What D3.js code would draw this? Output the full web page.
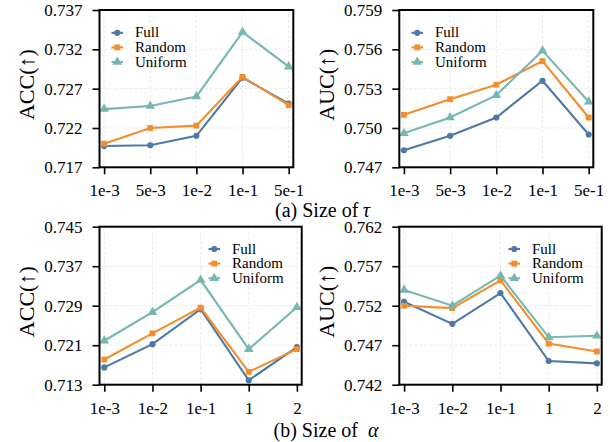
<!DOCTYPE html>
<html>
<head>
<meta charset="utf-8">
<script src="https://cdn.jsdelivr.net/npm/d3@7"></script>
<style>
  body { margin: 0; background: #fff; }
  svg text { font-family: "Liberation Serif", "Times New Roman", Times, serif !important; fill: #000; }
</style>
</head>
<body>
<div id="chart"></div>
<script>
// categories
var tauCats = ["1e-3", "5e-3", "1e-2", "1e-1", "5e-1"];
var alphaCats = ["1e-3", "1e-2", "1e-1", "1", "2"];
var seriesNames = ["Full", "Random", "Uniform"];

// (a) size of tau
var accTauFull = [0.7197, 0.7198, 0.7210, 0.7284, 0.7251];
var accTauRandom = [0.7200, 0.7220, 0.7223, 0.7285, 0.7249];
var accTauUniform = [0.7244, 0.7248, 0.7260, 0.7342, 0.7298];
var aucTauFull = [0.7483, 0.7494, 0.7508, 0.7536, 0.7495];
var aucTauRandom = [0.7510, 0.7522, 0.7533, 0.7551, 0.7508];
var aucTauUniform = [0.7496, 0.7508, 0.7525, 0.7559, 0.7520];

// (b) size of alpha
var accAlphaFull = [0.7165, 0.7212, 0.7283, 0.7139, 0.7206];
var accAlphaRandom = [0.7181, 0.7234, 0.7286, 0.7156, 0.7202];
var accAlphaUniform = [0.7219, 0.7277, 0.7342, 0.7202, 0.7287];
var aucAlphaFull = [0.7525, 0.7497, 0.7536, 0.7450, 0.7447];
var aucAlphaRandom = [0.7520, 0.7517, 0.7552, 0.7472, 0.7462];
var aucAlphaUniform = [0.7540, 0.7520, 0.7558, 0.7480, 0.7482];

// y tick labels
var accTauTicks = [0.717, 0.722, 0.727, 0.732, 0.737];
var aucTauTicks = [0.747, 0.750, 0.753, 0.756, 0.759];
var accAlphaTicks = [0.713, 0.721, 0.729, 0.737, 0.745];
var aucAlphaTicks = [0.742, 0.747, 0.752, 0.757, 0.762];

var colors = ["#4E79A7", "#F28E2B", "#76B7B2"];
var symbols = [d3.symbolCircle, d3.symbolSquare, d3.symbolTriangle];
var symSizes = [30, 34, 40];
var serif = "Liberation Serif";

var svg = d3.select("#chart")
  .append("svg")
  .attr("width", 610)
  .attr("height", 442)
  .attr("font-family", serif);

function drawPanel(p) {
  var g = svg.append("g");

  var x = d3.scaleLinear()
    .domain([-0.1, p.cats.length - 0.9])
    .range([p.left, p.right]);
  var y = d3.scaleLinear()
    .domain([p.ticks[0], p.ticks[p.ticks.length - 1]])
    .range([p.bottom, p.top]);

  // grid
  g.append("g")
    .selectAll("line")
    .data(p.ticks)
    .enter()
    .append("line")
    .attr("x1", p.left).attr("x2", p.right)
    .attr("y1", d => y(d)).attr("y2", d => y(d))
    .attr("stroke", "#e6e6e6")
    .attr("stroke-width", 0.8)
    .attr("stroke-dasharray", "3,2");
  g.append("g")
    .selectAll("line")
    .data(p.cats)
    .enter()
    .append("line")
    .attr("x1", (d, i) => x(i)).attr("x2", (d, i) => x(i))
    .attr("y1", p.top).attr("y2", p.bottom)
    .attr("stroke", "#e6e6e6")
    .attr("stroke-width", 0.8)
    .attr("stroke-dasharray", "3,2");

  // lines + markers
  var line = d3.line()
    .x((d, i) => x(i))
    .y(d => y(d));

  p.series.forEach(function(vals, k) {
    g.append("path")
      .datum(vals)
      .attr("d", line)
      .attr("fill", "none")
      .attr("stroke", colors[k])
      .attr("stroke-width", 2.1);
    g.selectAll("path.m" + k)
      .data(vals)
      .enter()
      .append("path")
      .attr("class", "m" + k)
      .attr("transform", (d, i) => `translate(${x(i)}, ${y(d)})`)
      .attr("d", d3.symbol().type(symbols[k]).size(symSizes[k]))
      .attr("fill", colors[k]);
  });

  // axes
  var leftAxis = d3.axisLeft(y)
    .tickValues(p.ticks)
    .tickFormat(d3.format(".3f"))
    .tickSize(7)
    .tickPadding(10);
  var bottomAxis = d3.axisBottom(x)
    .tickValues(d3.range(p.cats.length))
    .tickFormat(i => p.cats[i])
    .tickSize(7)
    .tickPadding(10);

  var ya = g.append("g")
    .attr("transform", `translate(${p.left}, 0)`)
    .call(leftAxis);
  var xa = g.append("g")
    .attr("transform", `translate(0, ${p.bottom})`)
    .call(bottomAxis);
  [ya, xa].forEach(function(a) {
    a.attr("font-family", serif).attr("font-size", 17);
    a.select(".domain").remove();
    a.selectAll("line").attr("stroke", "#000").attr("stroke-width", 1.6);
    a.selectAll("text").style("font-family", serif).attr("font-size", "17px");
  });

  // frame
  g.append("rect")
    .attr("x", p.left).attr("y", p.top)
    .attr("width", p.right - p.left)
    .attr("height", p.bottom - p.top)
    .attr("fill", "none")
    .attr("stroke", "#000")
    .attr("stroke-width", 2);

  // y label
  g.append("text")
    .attr("transform", `translate(${p.left - 73}, ${(p.top + p.bottom) / 2 - 4}) rotate(-90)`)
    .attr("text-anchor", "middle")
    .attr("dominant-baseline", "central")
    .attr("font-size", "22px")
    .style("font-family", serif)
    .text(p.ylabel);

  // legend
  var lg = g.append("g")
    .attr("transform", `translate(${p.legX}, ${p.legY})`);
  seriesNames.forEach(function(name, k) {
    var row = lg.append("g").attr("transform", `translate(0, ${k * 14.6})`);
    row.append("line")
      .attr("x1", 0).attr("x2", 11.5)
      .attr("stroke", colors[k])
      .attr("stroke-width", 2.1);
    row.append("path")
      .attr("transform", "translate(5.75, 0)")
      .attr("d", d3.symbol().type(symbols[k]).size(symSizes[k]))
      .attr("fill", colors[k]);
    row.append("text")
      .attr("x", 23.5)
      .attr("y", 4.6)
      .attr("font-size", "15px")
      .style("font-family", serif)
      .text(name);
  });
}

drawPanel({
  left: 99.5, right: 293.3, top: 10, bottom: 167.3,
  cats: tauCats, ticks: accTauTicks,
  series: [accTauFull, accTauRandom, accTauUniform],
  ylabel: "ACC(\u2191)", legX: 111.5, legY: 32.8
});
drawPanel({
  left: 399.3, right: 593.3, top: 10, bottom: 167.3,
  cats: tauCats, ticks: aucTauTicks,
  series: [aucTauFull, aucTauRandom, aucTauUniform],
  ylabel: "AUC(\u2191)", legX: 411.5, legY: 32.8
});
drawPanel({
  left: 99.5, right: 301.7, top: 226.7, bottom: 384.7,
  cats: alphaCats, ticks: accAlphaTicks,
  series: [accAlphaFull, accAlphaRandom, accAlphaUniform],
  ylabel: "ACC(\u2191)", legX: 208.5, legY: 249
});
drawPanel({
  left: 399.3, right: 601.7, top: 226.7, bottom: 384.7,
  cats: alphaCats, ticks: aucAlphaTicks,
  series: [aucAlphaFull, aucAlphaRandom, aucAlphaUniform],
  ylabel: "AUC(\u2191)", legX: 508.5, legY: 249
});

// captions: plain part + italic greek letter
function caption(x0, y0, label, sym, gap) {
  var t = svg.append("text")
    .attr("x", x0).attr("y", y0)
    .attr("font-size", "20px")
    .style("font-family", serif)
    .text(label);
  var w = t.node().getComputedTextLength();
  svg.append("text")
    .attr("x", x0 + w + gap).attr("y", y0)
    .attr("font-size", "20px")
    .attr("font-style", "italic")
    .style("font-family", serif)
    .text(sym);
}
caption(275, 216.5, "(a) Size of", "\u03C4", 4.5);
caption(273.5, 436.5, "(b) Size of", "\u03B1", 10);
</script>
</body>
</html>
